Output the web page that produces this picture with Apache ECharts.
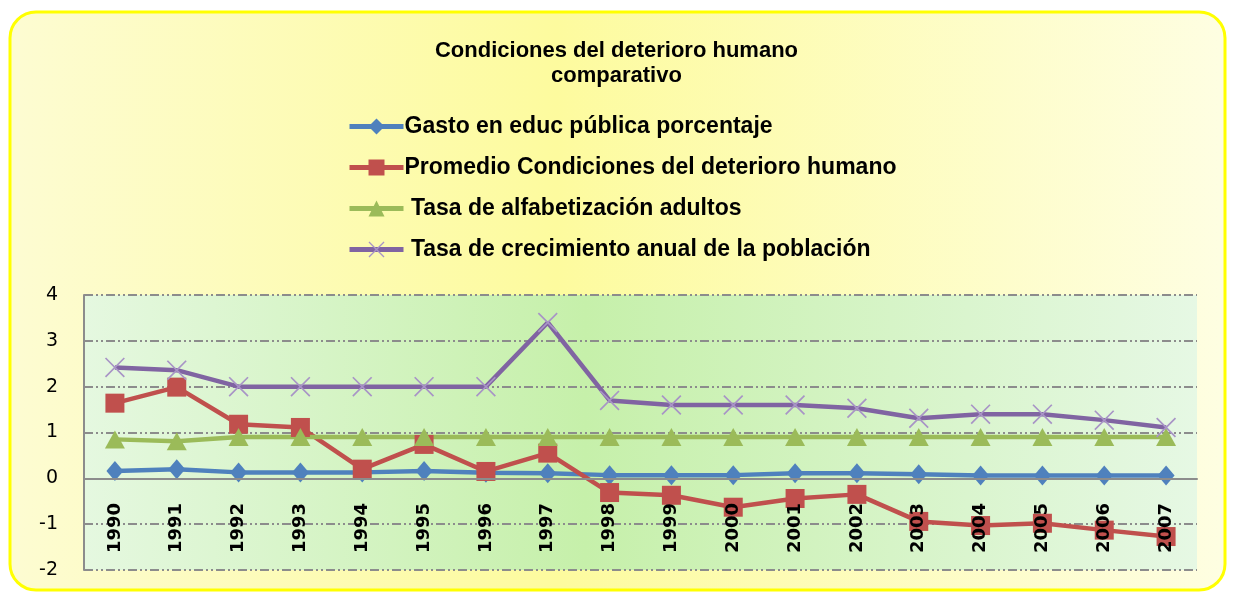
<!DOCTYPE html>
<html>
<head>
<meta charset="utf-8">
<style>
  html, body { margin: 0; padding: 0; background: #ffffff; }
  #chart { width: 1233px; height: 592px; }
</style>
<script src="https://cdn.jsdelivr.net/npm/echarts@6/dist/echarts.min.js"></script>
</head>
<body>
<div id="chart"></div>
<script>
// Years on the category axis
const years = ['1990','1991','1992','1993','1994','1995','1996','1997','1998',
               '1999','2000','2001','2002','2003','2004','2005','2006','2007'];

// Series names (as shown in the legend)
const seriesNames = [
  'Gasto en educ pública porcentaje',
  'Promedio Condiciones del deterioro humano',
  ' Tasa de alfabetización adultos',
  ' Tasa de crecimiento anual de la población'
];

// Series values
const gastoEduc = [0.16, 0.20, 0.13, 0.13, 0.13, 0.16, 0.12, 0.11, 0.07,
                   0.07, 0.07, 0.11, 0.11, 0.09, 0.06, 0.06, 0.06, 0.06];
const promedioDeterioro = [1.64, 1.99, 1.18, 1.11, 0.20, 0.74, 0.15, 0.55, -0.31,
                           -0.37, -0.63, -0.44, -0.35, -0.94, -1.03, -0.98, -1.13, -1.27];
const alfabetizacion = [0.85, 0.81, 0.90, 0.90, 0.90, 0.90, 0.90, 0.90, 0.90,
                        0.90, 0.90, 0.90, 0.90, 0.90, 0.90, 0.90, 0.90, 0.90];
const crecimiento = [2.42, 2.36, 2.00, 2.00, 2.00, 2.00, 2.00, 3.40, 1.70,
                     1.60, 1.60, 1.60, 1.53, 1.31, 1.40, 1.40, 1.27, 1.11];

// Value axis range
const yMin = -2, yMax = 4, yStep = 1;

const chart = echarts.init(document.getElementById('chart'), null, { renderer: 'canvas' });

const gridDash = [9, 3, 2, 3, 2, 3];
const crossPath = 'path://M0,0.6L0.6,0L10,9.4L9.4,10ZM9.4,0L10,0.6L0.6,10L0,9.4Z';

function lineSeries(name, data, color, symbol, size, symbolColor) {
  return {
    name: name,
    type: 'line',
    data: data,
    symbol: symbol,
    symbolSize: size,
    showSymbol: true,
    lineStyle: { color: color, width: 4.5 },
    itemStyle: { color: symbolColor || color, borderWidth: 0 },
    emphasis: { disabled: true },
    animation: false
  };
}

chart.setOption({
  backgroundColor: '#ffffff',
  animation: false,
  graphic: [{
    type: 'rect',
    z: -10,
    shape: { x: 10, y: 12, width: 1215, height: 578, r: 26 },
    style: {
      fill: new echarts.graphic.LinearGradient(0, 0, 1, 0, [
        { offset: 0, color: '#fdfcd2' },
        { offset: 0.45, color: '#fdfb9e' },
        { offset: 1, color: '#fefee2' }
      ]),
      stroke: '#ffff00',
      lineWidth: 3
    }
  }],
  title: {
    text: 'Condiciones del deterioro humano\ncomparativo',
    left: 'center',
    top: 33,
    textStyle: {
      fontFamily: 'Liberation Sans, Arial, sans-serif',
      fontWeight: 'bold',
      fontSize: 22,
      lineHeight: 25,
      color: '#000000',
      align: 'center'
    }
  },
  legend: {
    orient: 'vertical',
    left: 342,
    top: 110,
    itemWidth: 54,
    itemHeight: 20,
    itemGap: 18,
    data: seriesNames,
    lineStyle: { width: 5 },
    textStyle: {
      fontFamily: 'Liberation Sans, Arial, sans-serif',
      fontWeight: 'bold',
      fontSize: 23,
      lineHeight: 23,
      color: '#000000',
      padding: [0, 0, 0, -4]
    }
  },
  grid: {
    left: 84,
    right: 36,
    top: 295,
    bottom: 22,
    outerBoundsMode: 'none',
    containLabel: false,
    show: true,
    borderWidth: 0,
    backgroundColor: new echarts.graphic.LinearGradient(0, 0, 1, 0, [
      { offset: 0, color: '#e5f8e0' },
      { offset: 0.45, color: '#c6f0aa' },
      { offset: 1, color: '#e6f8e4' }
    ])
  },
  xAxis: {
    type: 'category',
    data: years,
    boundaryGap: true,
    z: 5,
    axisLine: { show: true, onZero: true, lineStyle: { color: '#8c8c8c', width: 2 } },
    axisTick: { show: false },
    axisLabel: {
      rotate: 90,
      margin: -67,
      fontFamily: 'DejaVu Sans, sans-serif',
      fontWeight: 'bold',
      fontSize: 18,
      color: '#000000',
      interval: 0
    },
    splitLine: { show: false }
  },
  yAxis: {
    type: 'value',
    min: yMin,
    max: yMax,
    interval: yStep,
    axisLine: { show: true, lineStyle: { color: '#8c8c8c', width: 2 } },
    axisTick: { show: false },
    axisLabel: {
      margin: 26,
      fontFamily: 'DejaVu Sans, sans-serif',
      fontSize: 19,
      color: '#000000'
    },
    splitLine: { show: true, lineStyle: { color: '#8c8c8c', width: 2, type: gridDash } }
  },
  series: [
    lineSeries(seriesNames[0], gastoEduc, '#4f81bd', 'diamond', [17, 20]),
    lineSeries(seriesNames[1], promedioDeterioro, '#c0504d', 'rect', 19),
    lineSeries(seriesNames[2], alfabetizacion, '#9bbb59', 'triangle', [20, 18]),
    lineSeries(seriesNames[3], crecimiento, '#8064a2', crossPath, 20, '#a894c6')
  ]
});
</script>
</body>
</html>
